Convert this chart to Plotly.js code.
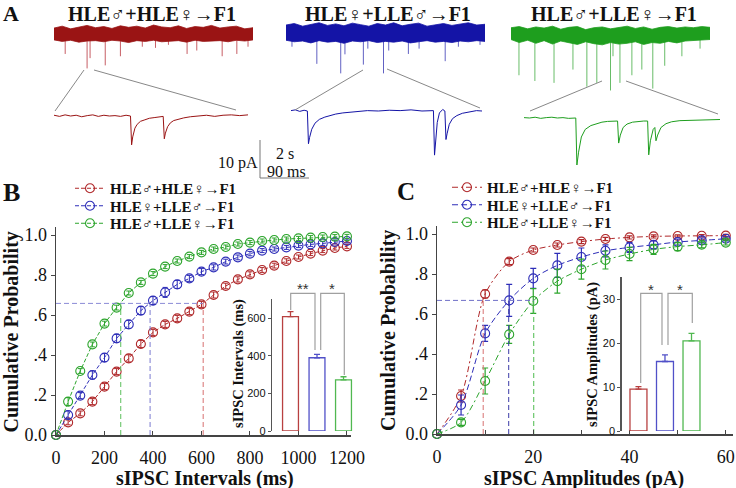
<!DOCTYPE html>
<html><head><meta charset="utf-8">
<script src="https://cdn.plot.ly/plotly-3.0.1.min.js"></script>
<style>html,body{margin:0;padding:0;background:#fff}#chart{width:736px;height:488px}</style>
</head><body><div id="chart"></div>
<script>
// ---------------- DATA ----------------
const groups = ['HLE♂+HLE♀→F1', 'HLE♀+LLE♂→F1', 'HLE♂+LLE♀→F1'];

// Panel B: cumulative probability of sIPSC intervals
const xB = [0,50,100,150,200,250,300,350,400,450,500,550,600,650,700,750,800,850,900,950,1000,1050,1100,1150,1200];
const redB   = [0,0.063,0.108,0.167,0.242,0.317,0.383,0.455,0.513,0.553,0.583,0.617,0.653,0.70,0.745,0.778,0.803,0.825,0.847,0.87,0.89,0.907,0.922,0.935,0.943];
const blueB  = [0,0.10,0.197,0.30,0.387,0.483,0.553,0.622,0.672,0.713,0.753,0.783,0.817,0.838,0.867,0.888,0.907,0.922,0.93,0.938,0.947,0.953,0.958,0.965,0.97];
const greenB = [0,0.167,0.32,0.453,0.557,0.637,0.71,0.763,0.807,0.842,0.87,0.892,0.913,0.93,0.94,0.955,0.962,0.97,0.975,0.98,0.983,0.987,0.99,0.992,0.993];
const errRedB   = [0,0.012,0.012,0.015,0.015,0.015,0.018,0.018,0.015,0.015,0.015,0.015,0.015,0.015,0.014,0.013,0.013,0.012,0.012,0.011,0.01,0.01,0.01,0.01,0.01];
const errBlueB  = [0,0.02,0.015,0.02,0.02,0.02,0.02,0.02,0.02,0.025,0.02,0.015,0.015,0.013,0.012,0.012,0.011,0.01,0.01,0.01,0.01,0.01,0.01,0.01,0.01];
const errGreenB = [0,0.02,0.012,0.012,0.012,0.012,0.01,0.01,0.01,0.01,0.01,0.01,0.01,0.01,0.01,0.01,0.01,0.01,0.01,0.01,0.01,0.01,0.01,0.01,0.01];
const guideB = [607, 388, 267];
const guideLevelB = 0.658;
const xTicksB = [0,200,400,600,800,1000,1200];

// Panel B inset: mean intervals (ms)
const barsB = [607, 389, 271];
const barErrB = [27, 18, 17];
const insetTicksB = [0,200,400,600];

// Panel C: cumulative probability of sIPSC amplitudes
const xC = [0,5,10,15,20,25,30,35,40,45,50,55,60];
const redC   = [0,0.19,0.70,0.862,0.92,0.945,0.962,0.975,0.983,0.988,0.99,0.991,0.992];
const blueC  = [0,0.145,0.503,0.668,0.778,0.843,0.885,0.916,0.933,0.946,0.96,0.968,0.976];
const greenC = [0,0.058,0.265,0.498,0.665,0.764,0.824,0.87,0.9,0.923,0.937,0.946,0.957];
const errRedC   = [0,0.03,0.02,0.015,0.01,0.01,0.01,0.008,0.008,0.008,0.006,0.006,0.006];
const errBlueC  = [0,0.05,0.04,0.08,0.05,0.06,0.045,0.03,0.025,0.02,0.015,0.012,0.01];
const errGreenC = [0,0.015,0.065,0.045,0.062,0.06,0.05,0.045,0.033,0.025,0.02,0.015,0.012];
const guideC = [9.6, 14.9, 20.1];
const guideLevelC = 0.668;
const xTicksC = [0,10,20,30,40,50,60];
const xTickTextC = ['0','','20','','40','','60'];

// Panel C inset: mean amplitudes (pA)
const barsC = [9.5, 15.8, 20.5];
const barErrC = [0.6, 1.5, 1.7];
const insetTicksC = [0,10,20,30];

const yTicks = [0,0.2,0.4,0.6,0.8,1.0];
const yTickText = ['0.0','.2','.4','.6','.8','1.0'];

// Panel A: 8 s raw traces (band envelope in pA, events: time s / peak pA)
const tBand = [0,0.33,0.67,1,1.33,1.67,2,2.33,2.67,3,3.33,3.67,4,4.33,4.67,5,5.33,5.67,6,6.33,6.67,7,7.33,7.67,8];
const redTop   = [1.4,1.9,1.2,1.7,2.1,1.5,1.8,1.3,2.0,1.6,1.9,1.4,2.2,1.7,1.5,2.0,1.3,1.8,1.6,2.1,1.4,1.7,1.9,1.2,1.5];
const redBot   = [-1.7,-2.1,-1.8,-2.3,-2.0,-1.9,-2.2,-1.8,-2.0,-2.4,-1.9,-2.1,-1.8,-2.2,-2.0,-1.9,-2.3,-1.8,-2.1,-2.0,-1.9,-2.2,-1.8,-2.0,-1.7];
const blueTop  = [2.2,2.6,1.9,2.4,2.8,2.1,2.5,2.0,2.7,2.3,1.9,2.6,2.2,2.8,2.0,2.4,2.7,1.9,2.3,2.6,2.1,2.5,2.8,2.2,2.4];
const blueBot  = [-1.8,-2.2,-2.0,-2.5,-1.9,-2.3,-2.1,-2.6,-2.0,-2.2,-1.9,-2.4,-2.1,-2.3,-2.0,-2.5,-2.2,-1.9,-2.3,-2.1,-2.4,-2.0,-2.2,-1.9,-2.1];
const greenTop = [1.5,1.8,1.2,1.7,1.4,1.9,1.1,1.6,1.8,1.0,1.5,1.7,1.2,1.6,1.9,1.3,1.7,1.1,1.6,1.8,1.4,1.7,1.5,1.8,1.6];
const greenBot = [-1.6,-2.4,-1.8,-2.6,-1.9,-2.8,-2.0,-2.5,-2.9,-2.2,-2.7,-3.0,-2.4,-2.8,-2.6,-2.2,-2.9,-2.4,-2.6,-2.1,-2.5,-2.0,-1.9,-1.7,-1.6];
const redEvT   = [0.45,1.33,1.45,2.06,2.67,3.55,4.08,4.6,5.35,5.74,6.76,7.35,7.8];
const redEvA   = [-5.4,-9.2,-6.5,-8.4,-6,-3.5,-3.8,-3,-5.4,-4.5,-6,-5.4,-3.5];
const blueEvT  = [0.24,1.24,2.2,2.37,3.11,3.29,3.92,4.13,4.92,5.35,6.4,6.93,7.8];
const blueEvA  = [-3.5,-8,-10.5,-5.5,-8.2,-4,-10.5,-4.5,-5.4,-4,-7.3,-3.5,-3];
const greenEvT = [0.32,0.96,1.73,2.49,3.05,3.45,4.0,4.1,4.38,4.86,5.26,5.7,6.18,6.87,7.6];
const greenEvA = [-11,-12.5,-13,-9.5,-14,-13,-15,-6,-13,-11,-9.5,-14.5,-8.5,-6,-4];

// Panel A: 350 ms expanded segments (time ms, current pA)
const redZt = [0,10,20,30,40,50,60,70,80,90,100,110,120,130,138,140,142,146,150,156,164,172,182,192,197,199,201,205,210,216,224,234,246,260,275,290,305,320,335,350];
const redZv = [0.2,-0.1,0.3,0,0.2,-0.2,0.1,0.3,-0.1,0.2,0,0.1,-0.1,0.2,0,-7.6,-5.5,-3.2,-2.2,-1.4,-1,-0.6,-0.4,-0.2,-0.1,-6.0,-4.5,-2.8,-1.8,-1.2,-0.8,-0.5,-0.2,0,0.2,-0.1,0.2,0.3,0.1,0.3];
const blueZt = [0,8,16,24,30,32,34,38,44,52,62,72,82,95,110,125,140,160,180,200,220,240,255,261,263,265,268,272,278,282,284,286,290,296,304,314,326,340,350];
const blueZv = [0.1,0.3,-0.1,0.2,0,-8.6,-7.0,-4.8,-3.2,-2.2,-1.6,-1.1,-0.8,-0.5,-0.3,-0.1,0.1,0,0.2,0.1,0.3,0,0.2,0.1,-11.6,-8,-3,-0.5,0.4,0,-7.5,-6,-3.5,-2,-1.2,-0.6,-0.2,0.1,0];
const greenZt = [0,10,20,30,40,50,60,70,80,90,93,95,98,103,110,120,130,140,150,160,168,170,173,178,185,195,205,215,222,224,227,232,235,237,240,246,255,265,280,300,320,340,352];
const greenZv = [0.1,0,0.2,-0.1,0.1,0.2,0,0.1,-0.1,0,0,-12.4,-9,-5,-3,-2,-1.5,-1.1,-0.9,-0.8,-0.8,-6.6,-4.5,-2.5,-1.6,-1.1,-0.9,-0.8,-0.8,-9.7,-6,-3,-2.5,-6,-4.5,-2.5,-1.5,-1,-0.7,-0.6,-0.5,-0.5,-0.4];

// ---------------- STYLE / LAYOUT HELPERS ----------------
const W = 736, H = 488;
const fx = p => p / W, fy = p => 1 - p / H;
const dX = (a, b) => [fx(a), fx(b)];
const dY = (top, bot) => [fy(bot), fy(top)];
const SERIF = '"Liberation Serif", "Times New Roman", Times, "DejaVu Serif", serif';
const SANS = '"Liberation Sans", Arial, sans-serif';
const col = ['#B0282A', '#2E2EB8', '#2DA52D'];
const traceCol = ['#9A1414', '#1414A6', '#1E9E1E'];
const spikeCol = ['rgba(180,40,50,0.75)', 'rgba(30,30,170,0.7)', 'rgba(40,160,40,0.7)'];
const guideCol = ['#D77070', '#7A7AD0', '#5CBF5C'];

const traces = [];

// ---- Panel B main ----
const seriesB = [redB, blueB, greenB], errsB = [errRedB, errBlueB, errGreenB];
seriesB.forEach((ys, i) => {
  traces.push({
    type: 'scatter', mode: 'lines+markers', x: xB, y: ys, xaxis: 'x', yaxis: 'y',
    name: '<b>' + groups[i] + '</b>', legend: 'legend', cliponaxis: false,
    line: {color: col[i], width: 1, dash: '4px,2px'},
    marker: {symbol: 'circle-open', size: 9, color: col[i], line: {width: 1.1}},
    error_y: {type: 'data', array: errsB[i], color: col[i], thickness: 1, width: 2.5}
  });
});
traces.push({type: 'scatter', mode: 'lines', x: [0, Math.max(...guideB)], y: [guideLevelB, guideLevelB],
  xaxis: 'x', yaxis: 'y', showlegend: false, hoverinfo: 'skip',
  line: {color: '#8A8AD6', width: 1, dash: '5px,3px'}});
guideB.forEach((g, i) => traces.push({type: 'scatter', mode: 'lines', x: [g, g], y: [0, guideLevelB],
  xaxis: 'x', yaxis: 'y', showlegend: false, hoverinfo: 'skip',
  line: {color: guideCol[i], width: 1, dash: '5px,3px'}}));

// ---- Panel C main ----
const seriesC = [redC, blueC, greenC], errsC = [errRedC, errBlueC, errGreenC];
const dashC = ['6px,3px,2px,3px', '6px,3px', '6px,3px,2px,3px'];
seriesC.forEach((ys, i) => {
  traces.push({
    type: 'scatter', mode: 'lines+markers', x: xC, y: ys, xaxis: 'x3', yaxis: 'y3',
    name: '<b>' + groups[i] + '</b>', legend: 'legend2', cliponaxis: false,
    line: {color: col[i], width: 1, dash: dashC[i], shape: 'spline', smoothing: 0.8},
    marker: {symbol: 'circle-open', size: 9, color: col[i], line: {width: 1.1}},
    error_y: {type: 'data', array: errsC[i], color: col[i], thickness: 1.2, width: 3}
  });
});
traces.push({type: 'scatter', mode: 'lines', x: [0, Math.max(...guideC)], y: [guideLevelC, guideLevelC],
  xaxis: 'x3', yaxis: 'y3', showlegend: false, hoverinfo: 'skip',
  line: {color: '#6F6FC8', width: 1, dash: '5px,3px'}});
const guideColC = ['#D77070', '#3A3AA8', '#4CBB4C'];
guideC.forEach((g, i) => traces.push({type: 'scatter', mode: 'lines', x: [g, g], y: [0, guideLevelC],
  xaxis: 'x3', yaxis: 'y3', showlegend: false, hoverinfo: 'skip',
  line: {color: guideColC[i], width: 1, dash: '5px,3px'}}));

// ---- Insets ----
const barLine = ['#B84040', '#5050C8', '#50B850'];
barsB.forEach((v, i) => traces.push({type: 'bar', x: [i], y: [v], xaxis: 'x2', yaxis: 'y2', width: 0.6,
  showlegend: false, hoverinfo: 'skip', marker: {color: 'white', line: {color: barLine[i], width: 1.3}},
  error_y: {type: 'data', symmetric: false, array: [barErrB[i]], arrayminus: [0], color: barLine[i], thickness: 1.3, width: 3}}));
barsC.forEach((v, i) => traces.push({type: 'bar', x: [i], y: [v], xaxis: 'x4', yaxis: 'y4', width: 0.64,
  showlegend: false, hoverinfo: 'skip', marker: {color: 'white', line: {color: barLine[i], width: 1.3}},
  error_y: {type: 'data', symmetric: false, array: [barErrC[i]], arrayminus: [0], color: barLine[i], thickness: 1.3, width: 3}}));

// ---- Panel A traces ----
const tops = [redTop, blueTop, greenTop], bots = [redBot, blueBot, greenBot];
const evT = [redEvT, blueEvT, greenEvT], evA = [redEvA, blueEvA, greenEvA];
const zT = [redZt, blueZt, greenZt], zV = [redZv, blueZv, greenZv];
for (let i = 0; i < 3; i++) {
  const ax = 5 + i, bx = 8 + i;
  const sx = [], sy = [];
  evT[i].forEach((t, k) => { sx.push(t, t, null); sy.push(-1.6, evA[i][k], null); });
  traces.push({type: 'scatter', mode: 'lines', x: sx, y: sy, xaxis: 'x' + ax, yaxis: 'y' + ax,
    showlegend: false, hoverinfo: 'skip', line: {color: spikeCol[i], width: 1}});
  traces.push({type: 'scatter', mode: 'lines', x: tBand.concat(tBand.slice().reverse()),
    y: tops[i].concat(bots[i].slice().reverse()), fill: 'toself', fillcolor: traceCol[i],
    xaxis: 'x' + ax, yaxis: 'y' + ax, showlegend: false, hoverinfo: 'skip',
    line: {color: traceCol[i], width: 0.8}});
  traces.push({type: 'scatter', mode: 'lines', x: zT[i], y: zV[i], xaxis: 'x' + bx, yaxis: 'y' + bx,
    showlegend: false, hoverinfo: 'skip', line: {color: traceCol[i], width: 1}});
}

// ---------------- LAYOUT ----------------
const tickFont = {family: SERIF, size: 18, color: '#111'};
const hidden = (dom, rng, anchor) => ({domain: dom, range: rng, visible: false, fixedrange: true, anchor: anchor});
const mainAxis = extra => Object.assign({showline: true, linecolor: '#444', linewidth: 1.5, tickcolor: '#444',
  ticklen: 4, tickfont: tickFont, showgrid: false, zeroline: false, fixedrange: true, ticklabeloverflow: 'allow'}, extra);
const layout = {
  width: W, height: H, margin: {l: 0, r: 0, t: 0, b: 0},
  paper_bgcolor: 'white', plot_bgcolor: 'rgba(0,0,0,0)', barmode: 'overlay',
  font: {family: SERIF, color: '#111'},
  xaxis: mainAxis({domain: dX(56, 350.6), range: [0, 1215], anchor: 'y', ticks: 'inside', tickvals: xTicksB, ticklabelstandoff: 6}),
  yaxis: mainAxis({domain: dY(227, 435), range: [0, 1.04], anchor: 'x', ticks: 'outside', tickvals: yTicks, ticktext: yTickText}),
  xaxis3: mainAxis({domain: dX(437, 733), range: [0, 61.5], anchor: 'y3', ticks: 'inside', tickvals: xTicksC, ticktext: xTickTextC, ticklabelstandoff: 6}),
  yaxis3: mainAxis({domain: dY(226, 434), range: [0, 1.04], anchor: 'x3', ticks: 'outside', tickvals: yTicks, ticktext: yTickText}),
  xaxis2: hidden(dX(272, 355), [-0.698, 2.434], 'y2'),
  yaxis2: {domain: dY(299.2, 431), range: [0, 700], anchor: 'x2', showline: true, linecolor: '#555', linewidth: 1.2,
    ticks: 'outside', ticklen: 3, tickcolor: '#555', tickvals: insetTicksB, tickfont: {family: SANS, size: 11, color: '#111'},
    showgrid: false, zeroline: false, fixedrange: true},
  xaxis4: hidden(dX(621.5, 709), [-0.64, 2.66], 'y4'),
  yaxis4: {domain: dY(277, 431), range: [0, 35], anchor: 'x4', showline: true, linecolor: '#555', linewidth: 1.2,
    ticks: 'outside', ticklen: 3, tickcolor: '#555', tickvals: insetTicksC, tickfont: {family: SANS, size: 11, color: '#111'},
    showgrid: false, zeroline: false, fixedrange: true},
  xaxis5: hidden(dX(54, 253), [0, 8], 'y5'), yaxis5: hidden(dY(22, 92), [-15.4, 3], 'x5'),
  xaxis6: hidden(dX(286, 485), [0, 8], 'y6'), yaxis6: hidden(dY(22, 92), [-15.4, 3], 'x6'),
  xaxis7: hidden(dX(511, 710), [0, 8], 'y7'), yaxis7: hidden(dY(22, 92), [-15.4, 3], 'x7'),
  xaxis8: hidden(dX(54, 248), [0, 350], 'y8'), yaxis8: hidden(dY(98, 165), [-12.9, 4.74], 'x8'),
  xaxis9: hidden(dX(291, 482), [0, 350], 'y9'), yaxis9: hidden(dY(98, 165), [-14.2, 3.42], 'x9'),
  xaxis10: hidden(dX(524, 720), [0, 352], 'y10'), yaxis10: hidden(dY(98, 165), [-12.37, 5.26], 'x10'),
  legend: {x: fx(70), y: fy(172), xanchor: 'left', yanchor: 'top', bgcolor: 'rgba(0,0,0,0)',
    font: {family: SERIF, size: 15, color: '#111'}, itemwidth: 30, tracegroupgap: 0},
  legend2: {x: fx(447), y: fy(171), xanchor: 'left', yanchor: 'top', bgcolor: 'rgba(0,0,0,0)',
    font: {family: SERIF, size: 15, color: '#111'}, itemwidth: 30, tracegroupgap: 0},
  annotations: [],
  shapes: []
};

const ann = (text, x, y, opt = {}) => layout.annotations.push(Object.assign({
  text: text, x: fx(x), y: fy(y), xref: 'paper', yref: 'paper', showarrow: false,
  xanchor: 'center', yanchor: 'middle', font: {family: SERIF, size: 16, color: '#111'}}, opt));

ann('<b>A</b>', 11, 14, {font: {family: SERIF, size: 22, color: '#111'}});
ann('<b>B</b>', 11, 192, {font: {family: SERIF, size: 26, color: '#111'}});
ann('<b>C</b>', 406, 191, {font: {family: SERIF, size: 25, color: '#111'}});
[152, 388, 614].forEach((x, i) => ann('<b>' + groups[i] + '</b>', x, 14, {font: {family: SERIF, size: 20, color: '#111'}}));
ann('10 pA', 238, 163);
ann('2 s', 285, 153);
ann('90 ms', 286, 171);
ann('<b>Cumulative Probability</b>', 10.5, 332, {textangle: -90, font: {family: SERIF, size: 20, color: '#111'}});
ann('<b>Cumulative Probability</b>', 388, 331, {textangle: -90, font: {family: SERIF, size: 20, color: '#111'}});
ann('<b>sIPSC Intervals (ms)</b>', 205, 478, {font: {family: SERIF, size: 20, color: '#111'}});
ann('<b>sIPSC Amplitudes (pA)</b>', 584, 478, {font: {family: SERIF, size: 20, color: '#111'}});
ann('<b>sIPSC Intervals (ms)</b>', 238, 364, {textangle: -90, font: {family: SERIF, size: 14.5, color: '#111'}});
ann('<b>sIPSC Amplitudes (pA)</b>', 592, 355, {textangle: -90, font: {family: SERIF, size: 14.5, color: '#111'}});
ann('**', 303, 288, {font: {family: SANS, size: 15, color: '#333'}});
ann('*', 332, 288, {font: {family: SANS, size: 15, color: '#333'}});
ann('*', 651, 289, {font: {family: SANS, size: 15, color: '#333'}});
ann('*', 680, 289, {font: {family: SANS, size: 15, color: '#333'}});

const path = (pts, color, w) => layout.shapes.push({type: 'path', xref: 'paper', yref: 'paper',
  path: pts.map((p, k) => (k ? 'L' : 'M') + fx(p[0]) + ',' + fy(p[1])).join(' '), line: {color: color, width: w}});
path([[290.7, 310], [290.7, 293.3], [315, 293.3], [315, 350]], '#A0A0A0', 1.2);
path([[320.7, 350], [320.7, 293.3], [344.3, 293.3], [344.3, 375]], '#A0A0A0', 1.2);
path([[640.7, 383], [640.7, 293.3], [662, 293.3], [662, 345]], '#A0A0A0', 1.2);
path([[668, 345], [668, 293.3], [692.3, 293.3], [692.3, 323]], '#A0A0A0', 1.2);
path([[55, 111], [84, 70]], '#888', 1);
path([[94, 70], [236, 110]], '#888', 1);
path([[295, 110], [363, 70]], '#888', 1);
path([[387, 69], [480, 108]], '#888', 1);
path([[530, 111], [602, 81]], '#888', 1);
path([[626, 81], [718, 114]], '#888', 1);
path([[260, 140], [260, 178], [309, 178]], '#777', 1);

Plotly.newPlot('chart', traces, layout, {staticPlot: true, displayModeBar: false}).then(gd => {
  // tighten legend row spacing to match the reference (17.5 px per row)
  ['legend', 'legend2'].forEach(id => {
    const g = gd.querySelector('g.' + id);
    if (!g) return;
    const items = g.querySelectorAll('g.traces');
    let x0 = null, y0 = null;
    items.forEach((it, k) => {
      const m = /translate\(\s*([-\d.]+)[ ,]+([-\d.]+)/.exec(it.getAttribute('transform') || '');
      if (!m) return;
      if (k === 0) { x0 = +m[1]; y0 = +m[2]; }
      if (x0 !== null) it.setAttribute('transform', 'translate(' + x0 + ',' + (y0 + k * 17.5) + ')');
    });
  });
});
</script>
</body></html>
